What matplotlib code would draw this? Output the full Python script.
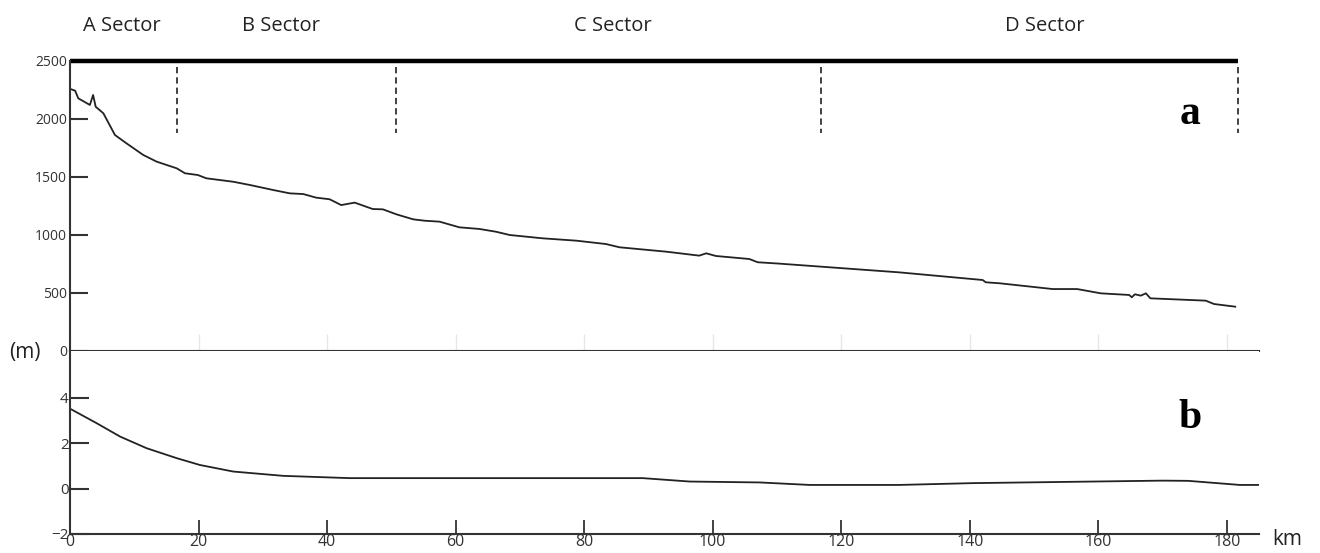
import numpy as np
import matplotlib
matplotlib.use("Agg")
from matplotlib import pyplot as plt

# profile a: elevation (m) along the river
km_a = [0, 0.8, 1.3, 3.1, 3.6, 4.0, 5.2, 7.0, 8.8, 11.4, 13.5, 16.6, 17.9, 19.9,
        21.2, 25.4, 28.0, 31.6, 34.2, 36.3, 38.3, 40.4, 42.2, 44.3, 47.1, 48.7,
        50.8, 53.4, 55.2, 57.5, 60.6, 63.7, 66.3, 68.4, 73.6, 78.8, 83.4, 85.5,
        92.8, 97.9, 99.0, 100.5, 105.7, 107.0, 110.4, 129.0, 142.0, 142.5, 144.6,
        152.9, 156.7, 160.4, 164.8, 165.2, 165.7, 166.6, 167.4, 168.1, 176.7,
        178.0, 181.3]
elev = [2260, 2244, 2178, 2121, 2207, 2106, 2049, 1862, 1790, 1690, 1632, 1575,
        1532, 1517, 1489, 1459, 1431, 1388, 1359, 1353, 1322, 1308, 1258, 1279,
        1224, 1221, 1178, 1135, 1123, 1115, 1066, 1052, 1028, 1000, 971, 951,
        922, 894, 856, 822, 842, 819, 793, 765, 753, 678, 612, 592, 584, 534,
        534, 497, 483, 463, 489, 477, 497, 454, 434, 405, 382]

# profile b
km_b = [0, 4.15, 7.8, 11.9, 16.6, 20.2, 25.4, 33.2, 43.5, 59.1, 89.1, 96.4,
        107.3, 115.1, 129.0, 140.5, 170.0, 174.0, 182.0, 184.9]
val_b = [3.52, 2.88, 2.29, 1.78, 1.34, 1.04, 0.75, 0.56, 0.46, 0.46, 0.46, 0.31,
         0.27, 0.16, 0.16, 0.24, 0.35, 0.34, 0.16, 0.16]

# sector limits and names
bounds = [16.6, 50.7, 116.9, 181.8]
sectors = ['A Sector', 'B Sector', 'C Sector', 'D Sector']
sector_x = [8.1, 32.9, 84.4, 151.6]

xticks = np.arange(0, 181, 20)
ink = '#333333'
plt.rcParams['font.family'] = ['Open Sans', 'DejaVu Sans']

fig = plt.figure(figsize=(13.2, 5.53), dpi=100)
ax1 = fig.add_axes([0.053, 0.3653, 0.9008, 0.5244])
ax2 = fig.add_axes([0.053, 0.0344, 0.9008, 0.3309])

#top panel
ax1.plot(km_a, elev, color='#222222', lw=1.3)
ax1.plot([0, bounds[-1]], [2500, 2500], color='black', lw=3.2, clip_on=False,
         solid_capstyle='butt')
for b in bounds:
    ax1.plot([b, b], [2450, 1880], color=ink, lw=1.3, linestyle=(0, (3.5, 2.2)))
for name, xs in zip(sectors, sector_x):
    ax1.text(xs, 2800, name, ha='center', va='center', fontsize=14.5,
             color='#222222', clip_on=False)
ax1.text(174.3, 2040, 'a', fontsize=30, fontweight='bold', ha='center',
         va='center', family='Liberation Serif')

ax1.set_xlim(0, 185)
ax1.set_ylim(0, 2500)
ax1.set_yticks([0, 500, 1000, 1500, 2000, 2500])
ax1.set_xticks(xticks)
ax1.tick_params(axis='y', direction='in', length=13, width=1.5, color=ink,
                labelsize=10, labelcolor=ink, pad=2)
ax1.tick_params(axis='x', direction='in', length=12, width=1, color='#e6e6e6',
                labelbottom=False)
for s in ['top', 'right']:
    ax1.spines[s].set_visible(False)
for s in ['left', 'bottom']:
    ax1.spines[s].set_color(ink)
    ax1.spines[s].set_linewidth(1.5)

#bottom panel
ax2.plot(km_b, val_b, color='#222222', lw=1.3)
ax2.text(174.3, 3.1, 'b', fontsize=30, fontweight='bold', ha='center',
         va='center', family='Liberation Serif')
ax2.set_xlim(0, 185)
ax2.set_ylim(-2, 6.06)
ax2.set_yticks([-2, 0, 2, 4])
ax2.set_xticks(xticks)
ax2.tick_params(axis='y', direction='in', length=14, width=1.5, color=ink,
                labelsize=11, labelcolor=ink, pad=1)
ax2.tick_params(axis='x', direction='in', length=10, width=1.3, color=ink,
                labelsize=11.5, labelcolor=ink, pad=0)
for s in ['top', 'right']:
    ax2.spines[s].set_visible(False)
for s in ['left', 'bottom']:
    ax2.spines[s].set_color(ink)
    ax2.spines[s].set_linewidth(1.5)

fig.text(0.975, 0.024, 'km', fontsize=15, ha='center', va='center', color='#222222')
fig.text(0.019, 0.363, '(m)', fontsize=15, ha='center', va='center', color='#222222')

plt.savefig('out.png', dpi=100)
